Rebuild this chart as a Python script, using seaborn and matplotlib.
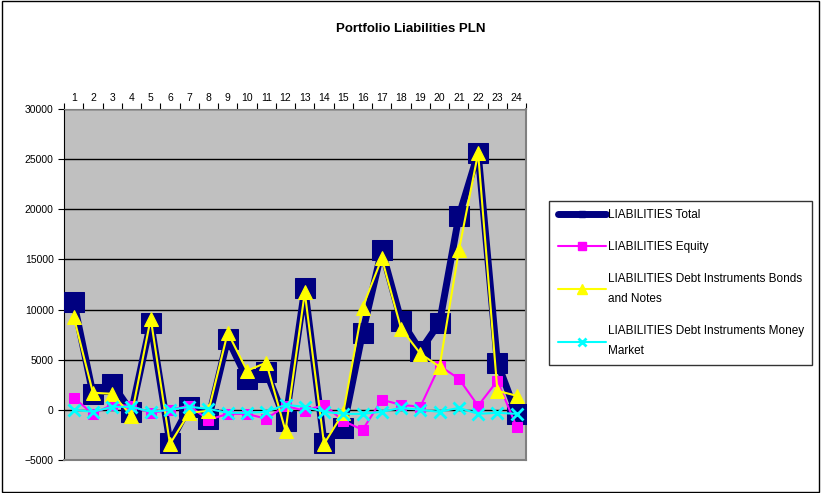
import matplotlib
matplotlib.use("Agg")
import matplotlib.pyplot as plt
import numpy as np
import pandas as pd
import seaborn as sns
from matplotlib.lines import Line2D
from matplotlib.patches import Rectangle
from matplotlib.ticker import FixedLocator, NullFormatter

periods = list(range(1, 25))
total = [10800, 1600, 2600, -200, 8700, -3300, 300, -900, 7100, 3100, 3800, -1100,
         12100, -3300, -1800, 7700, 15900, 8900, 5900, 8700, 19300, 25600, 4700, -400]
equity = [1200, -400, 500, 400, -300, 0, 400, -1000, -400, -400, -900, 400,
          -100, 500, -1100, -2000, 1000, 500, 300, 4400, 3100, 400, 2900, -1700]
bonds = [9300, 1700, 1600, -600, 9100, -3400, -300, -100, 7700, 3900, 4700, -2100,
         11700, -3400, -300, 10200, 15100, 8100, 5600, 4300, 15900, 25600, 1900, 1400]
money_market = [0, -200, 300, 300, -200, 0, 300, 100, -300, -300, -200, 500,
                300, -200, -400, -400, -200, 200, 0, -200, 200, -400, -300, -400]

labels = ["LIABILITIES Total", "LIABILITIES Equity",
          "LIABILITIES Debt Instruments Bonds\nand Notes",
          "LIABILITIES Debt Instruments Money\nMarket"]
colors = ["#000080", "#FF00FF", "#FFFF00", "#00FFFF"]

df = pd.DataFrame({"period": periods, "total": total, "equity": equity,
                   "bonds": bonds, "mm": money_market})

sns.set_style("white")
plt.rcParams["font.family"] = ["Liberation Sans", "DejaVu Sans"]
plt.rcParams["text.color"] = "black"
plt.rcParams["xtick.color"] = "black"
plt.rcParams["ytick.color"] = "black"

fig = plt.figure(figsize=(8.21, 4.93), dpi=100)
ax = fig.add_axes([0.078, 0.067, 0.563, 0.712])
ax.set_facecolor("#C0C0C0")

# series, drawn in the same order as the original
sns.lineplot(data=df, x="period", y="total", ax=ax, color=colors[0], linewidth=5,
             marker="s", markersize=15, markeredgecolor=colors[0], zorder=3)
sns.lineplot(data=df, x="period", y="equity", ax=ax, color=colors[1], linewidth=1.5,
             marker="s", markersize=7, markeredgecolor=colors[1], zorder=4)
sns.lineplot(data=df, x="period", y="bonds", ax=ax, color=colors[2], linewidth=1.5,
             marker="^", markersize=10, markeredgecolor=colors[2], zorder=5)
sns.lineplot(data=df, x="period", y="mm", ax=ax, color=colors[3], linewidth=1.5,
             marker="x", markersize=8, markeredgewidth=2, markeredgecolor=colors[3], zorder=6)

ax.set_xlim(0.5, 24.5)
ax.set_ylim(-5000, 30000)
ax.set_yticks(np.arange(-5000, 30001, 5000))
ax.yaxis.grid(True, color="black", linewidth=1)
ax.set_axisbelow(True)
ax.tick_params(axis="y", labelsize=7.5, length=4, color="black", left=True)

# category axis on top: ticks between categories, labels at centres
ax.xaxis.tick_top()
ax.xaxis.set_major_locator(FixedLocator(np.arange(0.5, 25, 1)))
ax.xaxis.set_major_formatter(NullFormatter())
ax.xaxis.set_minor_locator(FixedLocator(periods))
ax.set_xticklabels([str(p) for p in periods], minor=True)
ax.tick_params(axis="x", which="major", length=4, color="black", top=True)
ax.tick_params(axis="x", which="minor", length=0, labelsize=7.5, pad=4)
ax.set_xlabel("")
ax.set_ylabel("")

for side in ["right", "bottom"]:
    ax.spines[side].set_color("#808080")
    ax.spines[side].set_linewidth(1.5)
ax.spines["left"].set_color("black")
ax.spines["top"].set_color("#808080")

handles = [
    Line2D([], [], color=colors[0], linewidth=5, marker="s", markersize=5, solid_capstyle="round"),
    Line2D([], [], color=colors[1], linewidth=1.5, marker="s", markersize=6),
    Line2D([], [], color=colors[2], linewidth=1.5, marker="^", markersize=7),
    Line2D([], [], color=colors[3], linewidth=1.5, marker="x", markersize=6, markeredgewidth=2),
]
leg = ax.legend(handles, labels, loc="center left", bbox_to_anchor=(0.662, 0.426),
                bbox_transform=fig.transFigure, fontsize=8.5, frameon=True, fancybox=False,
                edgecolor="black", handlelength=4.1, labelspacing=1.7, borderpad=0.7,
                handletextpad=0.15)
leg.get_frame().set_linewidth(1)
for t in leg.get_texts():
    t.set_linespacing(1.9)

fig.text(0.5, 0.942, "Portfolio Liabilities PLN", ha="center", va="center",
         fontsize=9.5, fontweight="bold")
fig.patches.append(Rectangle((0.002, 0.003), 0.996, 0.994, transform=fig.transFigure,
                             fill=False, edgecolor="black", linewidth=1))

fig.savefig("out.png", dpi=100)
